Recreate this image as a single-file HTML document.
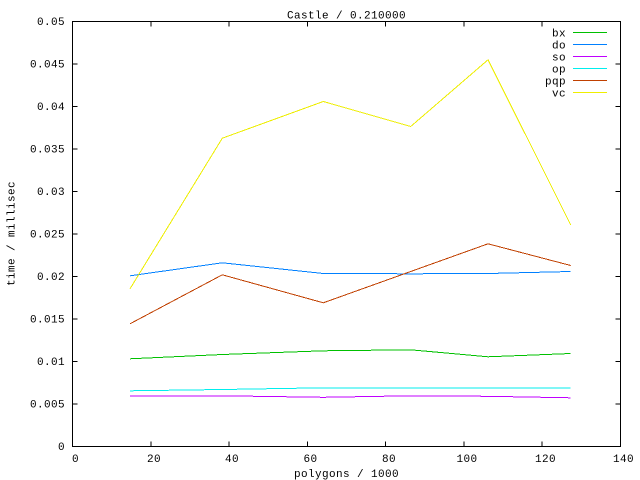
<!DOCTYPE html>
<html>
<head>
<meta charset="utf-8">
<style>
html,body{margin:0;padding:0;background:#fff;}
svg{display:block;}
text{font-family:"Liberation Mono","DejaVu Sans Mono",monospace;font-size:11px;letter-spacing:0.4px;fill:#000;}
</style>
</head>
<body>
<svg width="640" height="480" viewBox="0 0 640 480" xmlns="http://www.w3.org/2000/svg">
<rect x="0" y="0" width="640" height="480" fill="#fff"/>
<!-- frame -->
<g stroke="#000" stroke-width="1" fill="none" shape-rendering="crispEdges">
<rect x="72.5" y="21.5" width="548" height="425"/>
<path d="M72.5 446.5h5M72.5 404h5M72.5 361.5h5M72.5 319h5M72.5 276.5h5M72.5 234h5M72.5 191.5h5M72.5 149h5M72.5 106.5h5M72.5 64h5M72.5 21.5h5
M620.5 446.5h-5M620.5 404h-5M620.5 361.5h-5M620.5 319h-5M620.5 276.5h-5M620.5 234h-5M620.5 191.5h-5M620.5 149h-5M620.5 106.5h-5M620.5 64h-5M620.5 21.5h-5"/>
<path d="M72.5 446.5v-5M150.8 446.5v-5M229.1 446.5v-5M307.4 446.5v-5M385.6 446.5v-5M463.9 446.5v-5M542.2 446.5v-5M620.5 446.5v-5
M72.5 21.5v5M150.8 21.5v5M229.1 21.5v5M307.4 21.5v5M385.6 21.5v5M463.9 21.5v5M542.2 21.5v5M620.5 21.5v5"/>
</g>
<!-- y tick labels -->
<g text-anchor="end">
<text x="65" y="450">0</text>
<text x="65" y="407.5">0.005</text>
<text x="65" y="365">0.01</text>
<text x="65" y="322.5">0.015</text>
<text x="65" y="280">0.02</text>
<text x="65" y="237.5">0.025</text>
<text x="65" y="195">0.03</text>
<text x="65" y="152.5">0.035</text>
<text x="65" y="110">0.04</text>
<text x="65" y="67.5">0.045</text>
<text x="65" y="25">0.05</text>
</g>
<!-- x tick labels -->
<g text-anchor="middle">
<text x="75.5" y="462">0</text>
<text x="154" y="462">20</text>
<text x="232" y="462">40</text>
<text x="310.5" y="462">60</text>
<text x="389" y="462">80</text>
<text x="467" y="462">100</text>
<text x="545.5" y="462">120</text>
<text x="623.5" y="462">140</text>
</g>
<!-- title and labels -->
<text x="346.5" y="18.5" text-anchor="middle">Castle / 0.210000</text>
<text x="346.5" y="477" text-anchor="middle">polygons / 1000</text>
<text transform="translate(14.5,233.5) rotate(-90)" text-anchor="middle">time / millisec</text>
<!-- series -->
<g fill="none" stroke-width="1" shape-rendering="crispEdges">
<polyline stroke="#00c000" points="130,358.8 222.3,354.5 323.3,350.8 410.7,349.8 488,356.8 570.7,353.5"/>
<polyline stroke="#0080ff" points="130,275.8 222.3,262.8 323.3,273.5 410.7,273.8 488,273.5 570.7,271.5"/>
<polyline stroke="#c000ff" points="130,395.8 222.3,395.8 323.3,397.3 410.7,395.8 488,396.3 570.7,397.8"/>
<polyline stroke="#00eeee" points="130,390.8 222.3,389.5 323.3,387.8 410.7,387.8 488,387.8 570.7,387.8"/>
<polyline stroke="#c04000" points="130,323.8 222.3,274.8 323.3,302.8 410.7,271.5 488,243.8 570.7,265.5"/>
<polyline stroke="#eeee00" points="130,288.8 222.3,138.2 323.3,101.5 410.7,126.5 488,59.8 570.7,224.8"/>
</g>
<!-- legend -->
<g text-anchor="end">
<text x="566" y="36.5">bx</text>
<text x="566" y="48.5">do</text>
<text x="566" y="60.5">so</text>
<text x="566" y="72.5">op</text>
<text x="566" y="84.5">pqp</text>
<text x="566" y="96.5">vc</text>
</g>
<g stroke-width="1" shape-rendering="crispEdges">
<line x1="573" y1="32.5" x2="607" y2="32.5" stroke="#00c000"/>
<line x1="573" y1="44.5" x2="607" y2="44.5" stroke="#0080ff"/>
<line x1="573" y1="56.5" x2="607" y2="56.5" stroke="#c000ff"/>
<line x1="573" y1="68.5" x2="607" y2="68.5" stroke="#00eeee"/>
<line x1="573" y1="80.5" x2="607" y2="80.5" stroke="#c04000"/>
<line x1="573" y1="92.5" x2="607" y2="92.5" stroke="#eeee00"/>
</g>
</svg>
</body>
</html>
